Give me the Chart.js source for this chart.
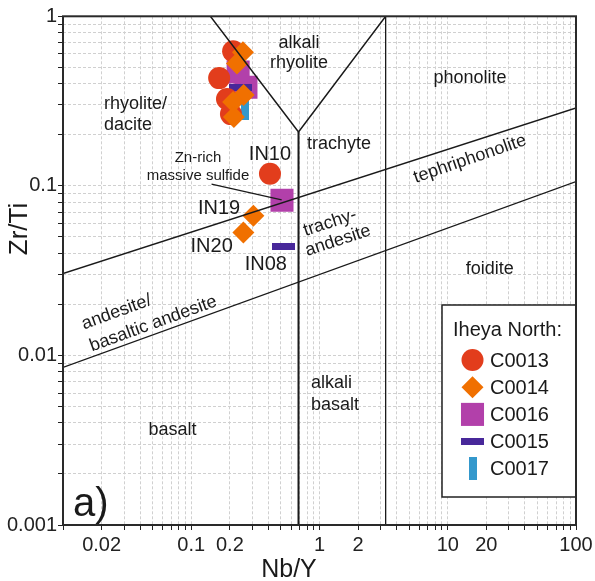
<!DOCTYPE html>
<html>
<head>
<meta charset="utf-8">
<script src="https://cdn.jsdelivr.net/npm/chart.js@4.4.0/dist/chart.umd.min.js"></script>
<style>
  html, body { margin: 0; padding: 0; background: #fff; }
</style>
</head>
<body>
<canvas id="chart" width="595" height="581"></canvas>
<script>
// Zr/Ti vs Nb/Y 分類図（Pearce 1996 型）を Chart.js の散布図で描く。

const FONT = '"Liberation Sans", Arial, Helvetica, sans-serif';

// ---- 軸の目盛り ----
const xTickLabels = [0.02, 0.1, 0.2, 1, 2, 10, 20, 100];
const yTickLabels = [0.001, 0.01, 0.1, 1];
const xDecades = [0.01, 0.1, 1, 10, 100];
const yDecades = [0.001, 0.01, 0.1, 1];

// ---- 試料（Nb/Y, Zr/Ti）----
const c0013 = [
  { x: 0.212, y: 0.622 }, { x: 0.165, y: 0.432 }, { x: 0.190, y: 0.325 },
  { x: 0.204, y: 0.265 }, { x: 0.411, y: 0.118 }
];
const c0014 = [
  { x: 0.253, y: 0.614 }, { x: 0.227, y: 0.526 }, { x: 0.256, y: 0.343 },
  { x: 0.212, y: 0.312 }, { x: 0.215, y: 0.255 }, { x: 0.305, y: 0.0666 },
  { x: 0.255, y: 0.0531 }
];
const c0016 = [{ x: 0.232, y: 0.469 }, { x: 0.267, y: 0.382 }, { x: 0.510, y: 0.0822 }];
const c0015 = [{ x: 0.240, y: 0.382 }, { x: 0.522, y: 0.0439 }];
const c0017 = [{ x: 0.262, y: 0.284 }];

// ---- 分類境界線 ----
const lineUpper = [{ x: 0.01, y: 0.0304 }, { x: 100, y: 0.288 }];
const lineLower = [{ x: 0.01, y: 0.0085 }, { x: 100, y: 0.106 }];
const lineV = [{ x: 0.141, y: 1 }, { x: 0.686, y: 0.208 }, { x: 3.28, y: 1 }];
const lineMid = [{ x: 0.686, y: 0.208 }, { x: 0.686, y: 0.001 }];
const lineRight = [{ x: 3.28, y: 1 }, { x: 3.28, y: 0.001 }];
const lineZn = [{ x: 0.144, y: 0.1023 }, { x: 0.507, y: 0.0827 }];

// ---- 図中の文字（データ座標で置く）----
const zoneLabels = [
  { text: 'alkali', x: 0.692, y: 0.697 },
  { text: 'rhyolite', x: 0.692, y: 0.531 },
  { text: 'phonolite', x: 14.9, y: 0.432 },
  { text: 'rhyolite/', x: 0.0209, y: 0.3036, align: 'left' },
  { text: 'dacite', x: 0.0209, y: 0.2285, align: 'left' },
  { text: 'trachyte', x: 0.799, y: 0.1766, align: 'left' },
  { text: 'tephriphonolite', x: 14.9, y: 0.144, rot: -19 },
  { text: 'trachy-', x: 1.208, y: 0.0606, rot: -18 },
  { text: 'andesite', x: 1.393, y: 0.0475, rot: -18 },
  { text: 'foidite', x: 21.3, y: 0.0325 },
  { text: 'andesite/', x: 0.0262, y: 0.01798, rot: -20 },
  { text: 'basaltic andesite', x: 0.0506, y: 0.01537, rot: -20 },
  { text: 'alkali', x: 0.8585, y: 0.00684, align: 'left' },
  { text: 'basalt', x: 0.8585, y: 0.00508, align: 'left' },
  { text: 'basalt', x: 0.0714, y: 0.00362 },
  { text: 'Zn-rich', x: 0.1129, y: 0.146, size: 15 },
  { text: 'massive sulfide', x: 0.1129, y: 0.1145, size: 15 },
  { text: 'IN10', x: 0.411, y: 0.1522, size: 20 },
  { text: 'IN19', x: 0.1646, y: 0.0737, size: 20 },
  { text: 'IN20', x: 0.1443, y: 0.0439, size: 20 },
  { text: 'IN08', x: 0.381, y: 0.0346, size: 20 },
  { text: 'a)', x: 0.01197, y: 0.00131, size: 40, align: 'left' }
];

// 横棒・縦棒のマーカー（小さな canvas を pointStyle に使う）
function barImage(w, h, color) {
  const c = document.createElement('canvas');
  c.width = w; c.height = h;
  const g = c.getContext('2d');
  g.fillStyle = color;
  g.fillRect(0, 0, w, h);
  return c;
}

const series = [
  { label: 'C0013', data: c0013, style: 'circle', radius: 11, color: '#E23D1C', order: 1 },
  { label: 'C0014', data: c0014, style: 'rectRot', radius: 11, color: '#F07000', order: 0 },
  { label: 'C0016', data: c0016, style: 'rect', radius: 16.3, color: '#B240AA', order: 4 },
  { label: 'C0015', data: c0015, style: barImage(23, 7, '#48289A'), radius: 12, color: '#48289A', order: 2 },
  { label: 'C0017', data: c0017, style: barImage(8, 23, '#3498CC'), radius: 12, color: '#3498CC', order: 3 }
];

function logTicks(decades) {
  const out = [];
  decades.forEach((d, i) => {
    if (i === decades.length - 1) { out.push(d); return; }
    for (let m = 1; m <= 9; m++) out.push(+(m * d).toPrecision(6));
  });
  return out;
}

function findLabel(v, labels) {
  const t = labels.find((l) => Math.abs(Math.log10(l) - Math.log10(v)) < 1e-6);
  return t === undefined ? '' : String(t);
}

function axis(min, max, decades, labels, isX) {
  return {
    type: 'logarithmic',
    min: min,
    max: max,
    afterBuildTicks: (s) => { s.ticks = logTicks(decades).map((v) => ({ value: v })); },
    afterFit: (s) => {
      if (isX) { s.height = 56; s.paddingLeft = 0; s.paddingRight = 0; }
      else { s.width = 63; s.paddingTop = 0; s.paddingBottom = 0; }
    },
    ticks: {
      autoSkip: false,
      maxRotation: 0,
      padding: isX ? 3 : 1,
      color: '#222',
      font: { family: FONT, size: 20 },
      callback: (v) => findLabel(v, labels)
    },
    grid: {
      color: '#d0d0d0', lineWidth: 1,
      tickLength: 5, tickColor: '#222', tickWidth: 1, tickBorderDash: []
    },
    border: { display: false, dash: [3, 2] }
  };
}

function boundary(data, width) {
  return {
    data: data, showLine: true, borderColor: '#1a1a1a', borderWidth: width,
    pointRadius: 0, fill: false, tension: 0, order: -1
  };
}

// 注記・凡例・枠を描くプラグイン
const overlay = {
  id: 'overlay',
  afterDatasetsDraw(chart) {
    const { ctx, chartArea: a, scales } = chart;
    const sx = scales.x, sy = scales.y;
    ctx.save();
    ctx.fillStyle = '#1a1a1a';
    ctx.textBaseline = 'middle';

    zoneLabels.forEach((l) => {
      ctx.save();
      ctx.translate(sx.getPixelForValue(l.x), sy.getPixelForValue(l.y));
      if (l.rot) ctx.rotate(l.rot * Math.PI / 180);
      ctx.font = (l.size || 18) + 'px ' + FONT;
      ctx.textAlign = l.align || 'center';
      ctx.fillText(l.text, 0, 0);
      ctx.restore();
    });

    // 軸タイトル
    ctx.font = '25px ' + FONT;
    ctx.textAlign = 'center';
    ctx.fillText('Nb/Y', 289, 570);
    ctx.save();
    ctx.translate(20, 229);
    ctx.rotate(-Math.PI / 2);
    ctx.font = '26px ' + FONT;
    ctx.fillText('Zr/Ti', 0, 0);
    ctx.restore();

    // 凡例
    const bx = 442, by = 305, bw = a.right - bx, bh = 192;
    ctx.fillStyle = '#fff';
    ctx.fillRect(bx, by, bw, bh);
    ctx.strokeStyle = '#222';
    ctx.lineWidth = 1.5;
    ctx.strokeRect(bx, by, bw, bh);
    ctx.fillStyle = '#1a1a1a';
    ctx.font = '20px ' + FONT;
    ctx.textAlign = 'left';
    ctx.fillText('Iheya North:', 453, 330);
    series.forEach((s, i) => {
      const cx = 472.5, cy = 360 + i * 27.2;
      ctx.fillStyle = s.color;
      if (s.style === 'circle') {
        ctx.beginPath(); ctx.arc(cx, cy, s.radius, 0, Math.PI * 2); ctx.fill();
      } else if (s.style === 'rectRot') {
        const r = s.radius;
        ctx.beginPath();
        ctx.moveTo(cx - r, cy); ctx.lineTo(cx, cy - r); ctx.lineTo(cx + r, cy); ctx.lineTo(cx, cy + r);
        ctx.closePath(); ctx.fill();
      } else if (s.style === 'rect') {
        const h = s.radius * Math.SQRT1_2;
        ctx.fillRect(cx - h, cy - h, 2 * h, 2 * h);
      } else {
        ctx.drawImage(s.style, cx - s.style.width / 2, cy - s.style.height / 2);
      }
      ctx.fillStyle = '#1a1a1a';
      ctx.fillText(s.label, 490, cy + 1);
    });

    // 外枠
    ctx.strokeStyle = '#2a2a2a';
    ctx.lineWidth = 2;
    ctx.strokeRect(a.left, a.top, a.right - a.left, a.bottom - a.top);
    ctx.restore();
  }
};

new Chart(document.getElementById('chart'), {
  type: 'scatter',
  data: {
    datasets: [
      ...series.map((s) => ({
        label: s.label, data: s.data, pointStyle: s.style, pointRadius: s.radius,
        pointHoverRadius: s.radius, backgroundColor: s.color, borderWidth: 0, order: s.order
      })),
      boundary(lineUpper, 1.3),
      boundary(lineLower, 1.3),
      boundary(lineV, 1.5),
      boundary(lineMid, 2),
      boundary(lineRight, 1.3),
      boundary(lineZn, 1.3)
    ]
  },
  options: {
    responsive: false,
    animation: false,
    events: [],
    layout: { padding: { top: 15, right: 19, bottom: 0, left: 0 } },
    plugins: { legend: { display: false }, tooltip: { enabled: false } },
    scales: {
      x: axis(0.01, 100, xDecades, xTickLabels, true),
      y: axis(0.001, 1, yDecades, yTickLabels, false)
    }
  },
  plugins: [overlay]
});
</script>
</body>
</html>
